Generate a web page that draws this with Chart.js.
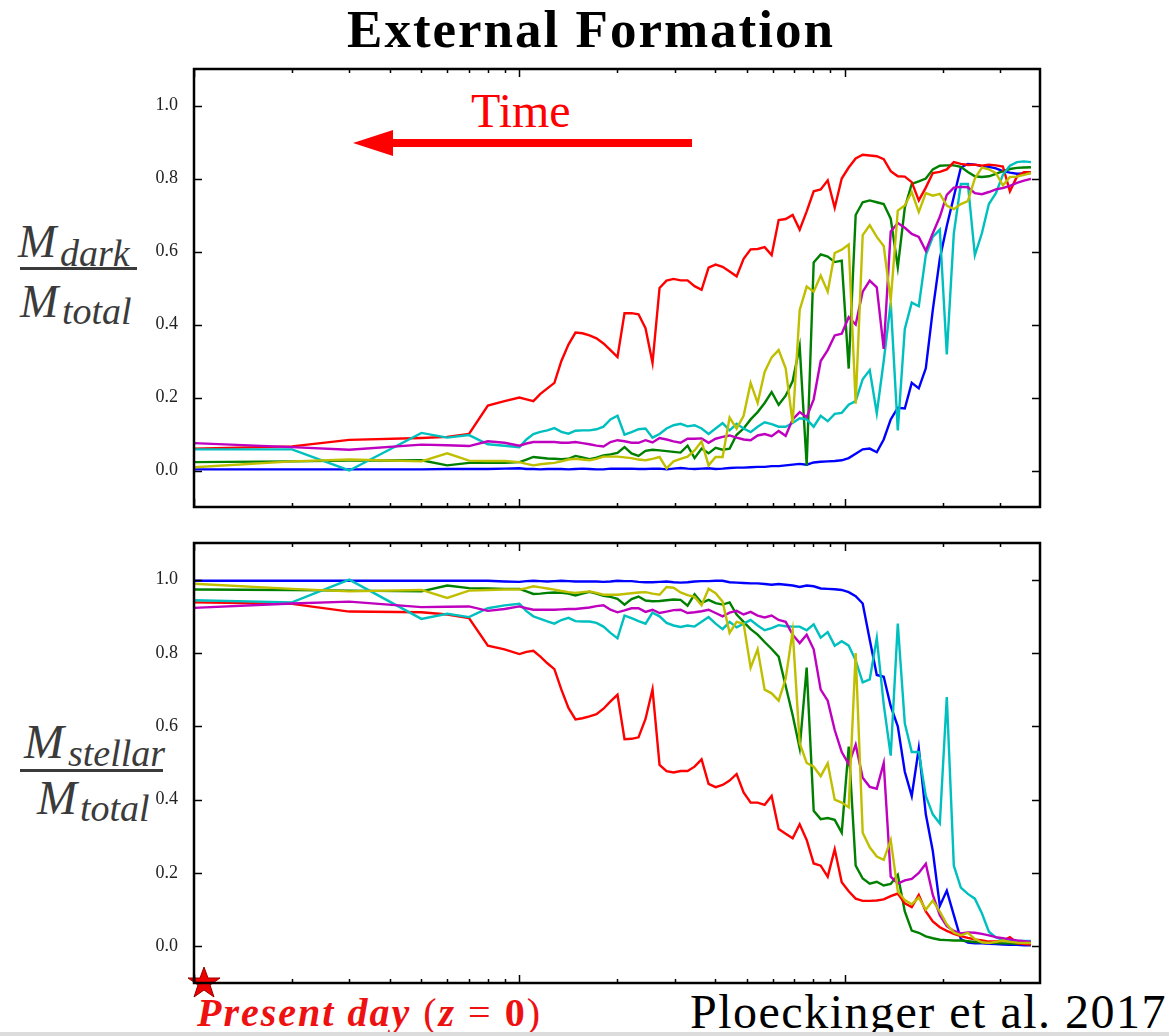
<!DOCTYPE html>
<html><head><meta charset="utf-8">
<script src="https://cdn.jsdelivr.net/npm/chart.js@4.4.1/dist/chart.umd.min.js"></script>
<style>
html,body{margin:0;padding:0;background:#fff;}
body{width:1169px;height:1036px;overflow:hidden;position:relative;}
canvas{position:absolute;left:0;}
.t{position:absolute;white-space:nowrap;line-height:1;font-family:"Liberation Serif","Times New Roman",serif;}
.m{color:#3b3b3b;font-style:italic;}
.bar{position:absolute;background:#3b3b3b;}
</style></head><body>
<div class="t" id="title" style="left:591px;top:3px;transform:translateX(-50%);font-size:53px;letter-spacing:2px;font-weight:bold;color:#000;">External Formation</div>
<div class="t" style="left:471px;top:87px;font-size:48px;color:#ff0000;">Time</div>
<svg style="position:absolute;left:0;top:0;" width="1169" height="1036">
  <rect x="390" y="139" width="302" height="8" fill="#ff0000"/>
  <polygon points="353,143 393,130 393,156" fill="#ff0000"/>
  <polygon points="204,967 208,978 220,978 210,985 214,997 204,990 194,997 198,985 188,978 200,978" fill="#ee0000" stroke="#990000" stroke-width="1"/>
</svg>

<div class="t m" style="left:18px;top:219px;font-size:46px;">M</div>
<div class="t m" style="left:60px;top:234px;font-size:38px;">dark</div>
<div class="bar" style="left:20px;top:267px;width:117px;height:2.5px;"></div>
<div class="t m" style="left:20px;top:279px;font-size:46px;">M</div>
<div class="t m" style="left:62px;top:292px;font-size:38px;">total</div>

<div class="t m" style="left:24px;top:718px;font-size:48px;">M</div>
<div class="t m" style="left:68px;top:734px;font-size:38px;">stellar</div>
<div class="bar" style="left:20px;top:769px;width:143px;height:2.5px;"></div>
<div class="t m" style="left:37px;top:774px;font-size:48px;">M</div>
<div class="t m" style="left:80px;top:789px;font-size:38px;">total</div>

<div class="t" style="left:197px;top:993px;font-size:40px;color:#ee1111;letter-spacing:2px;"><b><i>Present day</i></b> (<b><i>z</i></b> = <b>0</b>)</div>
<div class="t" style="left:690px;top:988px;font-size:48px;letter-spacing:1.5px;color:#000;">Ploeckinger et al. 2017</div>
<div style="position:absolute;left:0;top:1032px;width:1169px;height:4px;background:#dcdcdc;"></div>

<canvas id="c1" width="1169" height="520" style="top:0px;width:1169px;height:520px;"></canvas>
<canvas id="c2" width="1169" height="480" style="top:520px;width:1169px;height:480px;"></canvas>

<script>
// snapshot positions (x axis, logarithmic)
const xSnap = [1, 2, 3, 5, 6, 7, 8, 9,
 10, 10.51, 11.04, 11.60, 12.19, 12.81, 13.46, 14.15, 14.87, 15.62,
 16.42, 17.25, 18.13, 19.05, 20.02, 21.04, 22.11, 23.23, 24.41, 25.65,
 26.96, 28.33, 29.77, 31.28, 32.87, 34.54, 36.30, 38.14, 40.08, 42.12,
 44.26, 46.51, 48.87, 51.36, 53.97, 56.71, 59.59, 62.62, 65.81, 69.15,
 72.67, 76.36, 80.24, 84.32, 88.61, 93.11, 97.85, 102.8, 108.0, 113.5,
 119.3, 125.4, 131.7, 138.4, 145.5, 152.9, 160.6, 168.8, 177.4, 186.4,
 195.9, 205.8, 216.3, 227.3, 238.9, 251.0, 263.8, 277.2, 291.3, 306.1,
 321.7, 338.0, 355.2, 373.3];

// ---- M_dark / M_total ----
const redDark = [0.06, 0.066, 0.084, 0.089, 0.092, 0.10, 0.178, 0.19,
 0.20, 0.195, 0.19, 0.21, 0.225, 0.24, 0.30, 0.345, 0.378, 0.376,
 0.37, 0.362, 0.348, 0.33, 0.311, 0.431, 0.431, 0.428, 0.39, 0.295,
 0.50, 0.52, 0.525, 0.521, 0.521, 0.505, 0.495, 0.556, 0.564, 0.558,
 0.545, 0.532, 0.58, 0.606, 0.607, 0.612, 0.59, 0.686, 0.689, 0.70,
 0.66, 0.71, 0.765, 0.77, 0.795, 0.72, 0.80, 0.83, 0.855, 0.865,
 0.863, 0.861, 0.853, 0.82, 0.806, 0.805, 0.79, 0.74, 0.775, 0.815,
 0.818, 0.825, 0.845, 0.84, 0.837, 0.838, 0.835, 0.838, 0.836, 0.833,
 0.765, 0.805, 0.817, 0.817];
const blueDark = [0.003, 0.003, 0.003, 0.003, 0.004, 0.004, 0.004, 0.005,
 0.006, 0.004, 0.004, 0.003, 0.004, 0.004, 0.004, 0.003, 0.004, 0.005,
 0.004, 0.003, 0.003, 0.005, 0.005, 0.005, 0.005, 0.004, 0.004, 0.005,
 0.005, 0.003, 0.005, 0.007, 0.005, 0.004, 0.005, 0.006, 0.004, 0.005,
 0.007, 0.008, 0.008, 0.009, 0.01, 0.01, 0.012, 0.012, 0.014, 0.016,
 0.018, 0.016, 0.022, 0.024, 0.025, 0.026, 0.028, 0.034, 0.046, 0.058,
 0.06, 0.05, 0.085, 0.14, 0.172, 0.17, 0.24, 0.225, 0.28, 0.44,
 0.58, 0.67, 0.75, 0.83, 0.84, 0.838, 0.834, 0.832, 0.828, 0.82,
 0.816, 0.813, 0.814, 0.815];
const greenDark = [0.023, 0.025, 0.027, 0.028, 0.014, 0.021, 0.021, 0.021,
 0.023, 0.03, 0.037, 0.035, 0.033, 0.032, 0.031, 0.032, 0.04, 0.036,
 0.031, 0.035, 0.041, 0.044, 0.048, 0.064, 0.047, 0.04, 0.054, 0.057,
 0.055, 0.053, 0.051, 0.049, 0.068, 0.034, 0.06, 0.047, 0.062, 0.057,
 0.06, 0.098, 0.115, 0.14, 0.16, 0.185, 0.215, 0.18, 0.205, 0.245,
 0.34, 0.014, 0.57, 0.592, 0.586, 0.571, 0.575, 0.279, 0.70, 0.735,
 0.74, 0.735, 0.73, 0.69, 0.557, 0.72, 0.785, 0.792, 0.80, 0.825,
 0.835, 0.836, 0.836, 0.832, 0.818, 0.806, 0.804, 0.806, 0.813, 0.82,
 0.826, 0.829, 0.83, 0.831];
const yellowDark = [0.009, 0.025, 0.03, 0.025, 0.047, 0.027, 0.026, 0.026,
 0.023, 0.018, 0.014, 0.017, 0.019, 0.021, 0.025, 0.03, 0.032, 0.03,
 0.028, 0.032, 0.038, 0.038, 0.038, 0.036, 0.034, 0.03, 0.028, 0.032,
 0.037, 0.006, 0.025, 0.032, 0.038, 0.055, 0.08, 0.014, 0.037, 0.037,
 0.145, 0.115, 0.15, 0.24, 0.185, 0.27, 0.31, 0.33, 0.28, 0.13,
 0.44, 0.504, 0.49, 0.534, 0.49, 0.596, 0.605, 0.619, 0.183, 0.645,
 0.672, 0.64, 0.615, 0.466, 0.712, 0.726, 0.763, 0.708, 0.76, 0.753,
 0.758, 0.726, 0.716, 0.73, 0.738, 0.80, 0.83, 0.825, 0.815, 0.781,
 0.804, 0.805, 0.81, 0.815];
const magentaDark = [0.075, 0.064, 0.057, 0.071, 0.069, 0.067, 0.08, 0.076,
 0.068, 0.074, 0.078, 0.078, 0.078, 0.078, 0.076, 0.076, 0.078, 0.075,
 0.072, 0.068, 0.066, 0.078, 0.083, 0.08, 0.076, 0.076, 0.083, 0.077,
 0.089, 0.085, 0.08, 0.076, 0.087, 0.087, 0.088, 0.076, 0.087, 0.092,
 0.096, 0.09, 0.085, 0.083, 0.096, 0.10, 0.094, 0.108, 0.095, 0.14,
 0.16, 0.146, 0.195, 0.30, 0.33, 0.37, 0.375, 0.42, 0.40, 0.49,
 0.52, 0.502, 0.333, 0.655, 0.678, 0.665, 0.648, 0.64, 0.602, 0.65,
 0.695, 0.755, 0.775, 0.777, 0.776, 0.76, 0.757, 0.763, 0.77, 0.774,
 0.78, 0.788, 0.794, 0.799];
const cyanDark = [0.058, 0.058, 0.0, 0.103, 0.09, 0.097, 0.072, 0.068,
 0.064, 0.085, 0.10, 0.106, 0.11, 0.116, 0.106, 0.101, 0.109, 0.11,
 0.11, 0.113, 0.12, 0.14, 0.15, 0.098, 0.105, 0.113, 0.115, 0.09,
 0.10, 0.115, 0.124, 0.128, 0.121, 0.124, 0.115, 0.10, 0.115, 0.13,
 0.11, 0.128, 0.115, 0.105, 0.12, 0.132, 0.127, 0.12, 0.12, 0.13,
 0.143, 0.14, 0.12, 0.15, 0.135, 0.155, 0.158, 0.18, 0.19, 0.25,
 0.275, 0.157, 0.30, 0.46, 0.11, 0.388, 0.46, 0.45, 0.59, 0.64,
 0.66, 0.318, 0.65, 0.785, 0.785, 0.59, 0.65, 0.73, 0.76, 0.81,
 0.835, 0.845, 0.847, 0.845];

// ---- M_stellar / M_total ----
const redStellar = [0.938, 0.934, 0.913, 0.911, 0.905, 0.895, 0.82, 0.81,
 0.797, 0.803, 0.806, 0.79, 0.772, 0.756, 0.70, 0.65, 0.619, 0.622,
 0.627, 0.633, 0.648, 0.668, 0.686, 0.565, 0.566, 0.57, 0.62, 0.701,
 0.495, 0.478, 0.474, 0.478, 0.478, 0.49, 0.51, 0.443, 0.434, 0.44,
 0.452, 0.47, 0.42, 0.392, 0.392, 0.386, 0.41, 0.32, 0.307, 0.295,
 0.333, 0.29, 0.226, 0.22, 0.19, 0.265, 0.175, 0.15, 0.13, 0.124,
 0.124, 0.125, 0.128, 0.137, 0.144, 0.117, 0.107, 0.14, 0.095, 0.068,
 0.052, 0.042, 0.034, 0.028, 0.023, 0.019, 0.016, 0.013, 0.013, 0.015,
 0.025, 0.009, 0.006, 0.005];
const blueStellar = [0.997, 0.997, 0.997, 0.997, 0.997, 0.997, 0.997, 0.995,
 0.994, 0.996, 0.997, 0.996, 0.995, 0.996, 0.997, 0.996, 0.995, 0.995,
 0.995, 0.995, 0.994, 0.995, 0.997, 0.996, 0.996, 0.994, 0.993, 0.993,
 0.994, 0.995, 0.993, 0.992, 0.993, 0.995, 0.996, 0.996, 0.997, 0.997,
 0.993, 0.992, 0.991, 0.99, 0.99, 0.988, 0.986, 0.988, 0.986, 0.984,
 0.98, 0.984, 0.982, 0.976, 0.975, 0.974, 0.972, 0.966, 0.955, 0.935,
 0.836, 0.74, 0.735, 0.655, 0.6, 0.476, 0.41, 0.54, 0.36, 0.26,
 0.11, 0.152, 0.085, 0.02, 0.01, 0.008, 0.008, 0.007, 0.006, 0.005,
 0.004, 0.004, 0.003, 0.003];
const greenStellar = [0.973, 0.972, 0.97, 0.968, 0.984, 0.977, 0.976, 0.975,
 0.975, 0.968, 0.961, 0.962, 0.964, 0.965, 0.964, 0.962, 0.957, 0.962,
 0.967, 0.962, 0.956, 0.953, 0.948, 0.932, 0.947, 0.954, 0.943, 0.941,
 0.942, 0.944, 0.946, 0.945, 0.929, 0.96, 0.937, 0.945, 0.936, 0.932,
 0.938, 0.905, 0.885, 0.865, 0.85, 0.83, 0.811, 0.79, 0.71, 0.63,
 0.54, 0.76, 0.37, 0.347, 0.35, 0.345, 0.31, 0.545, 0.22, 0.185,
 0.171, 0.176, 0.166, 0.17, 0.195, 0.095, 0.043, 0.037, 0.027, 0.022,
 0.018, 0.017, 0.016, 0.016, 0.014, 0.012, 0.011, 0.01, 0.009, 0.008,
 0.008, 0.007, 0.007, 0.007];
const yellowStellar = [0.989, 0.975, 0.968, 0.972, 0.95, 0.97, 0.972, 0.973,
 0.973, 0.977, 0.982, 0.979, 0.976, 0.973, 0.969, 0.966, 0.964, 0.966,
 0.968, 0.964, 0.959, 0.959, 0.959, 0.961, 0.963, 0.965, 0.966, 0.962,
 0.959, 0.98, 0.978, 0.965, 0.958, 0.953, 0.93, 0.975, 0.963, 0.94,
 0.855, 0.885, 0.88, 0.76, 0.81, 0.70, 0.69, 0.67, 0.73, 0.86,
 0.554, 0.50, 0.49, 0.464, 0.499, 0.40, 0.392, 0.379, 0.80, 0.31,
 0.27, 0.245, 0.236, 0.29, 0.15, 0.126, 0.115, 0.133, 0.10, 0.125,
 0.095, 0.06, 0.038, 0.03, 0.037, 0.02, 0.011, 0.009, 0.012, 0.016,
 0.012, 0.01, 0.009, 0.009];
const magentaStellar = [0.923, 0.935, 0.94, 0.925, 0.926, 0.927, 0.915, 0.92,
 0.927, 0.922, 0.918, 0.918, 0.918, 0.918, 0.919, 0.92, 0.92, 0.922,
 0.924, 0.928, 0.93, 0.918, 0.911, 0.916, 0.922, 0.922, 0.912, 0.918,
 0.909, 0.913, 0.917, 0.918, 0.909, 0.911, 0.914, 0.918, 0.909, 0.90,
 0.91, 0.915, 0.905, 0.912, 0.902, 0.897, 0.902, 0.89, 0.885, 0.85,
 0.827, 0.85, 0.81, 0.70, 0.67, 0.59, 0.53, 0.497, 0.55, 0.46,
 0.435, 0.43, 0.50, 0.19, 0.171, 0.18, 0.184, 0.20, 0.225, 0.14,
 0.085, 0.055, 0.042, 0.035, 0.038, 0.037, 0.034, 0.03, 0.025, 0.022,
 0.019, 0.016, 0.014, 0.012];
const cyanStellar = [0.944, 0.938, 1.0, 0.893, 0.907, 0.898, 0.922, 0.93,
 0.934, 0.914, 0.90, 0.893, 0.886, 0.88, 0.89, 0.896, 0.887, 0.886,
 0.886, 0.882, 0.872, 0.855, 0.84, 0.902, 0.895, 0.887, 0.88, 0.91,
 0.90, 0.882, 0.875, 0.871, 0.875, 0.872, 0.885, 0.898, 0.88, 0.865,
 0.885, 0.87, 0.88, 0.89, 0.875, 0.862, 0.868, 0.876, 0.873, 0.872,
 0.872, 0.862, 0.878, 0.842, 0.857, 0.82, 0.832, 0.82, 0.78, 0.72,
 0.728, 0.841, 0.66, 0.52, 0.88, 0.608, 0.53, 0.53, 0.41, 0.36,
 0.335, 0.68, 0.22, 0.16, 0.143, 0.13, 0.09, 0.04, 0.024, 0.018,
 0.016, 0.015, 0.015, 0.015];

// axis ticks
const yTickVals = [0.0, 0.2, 0.4, 0.6, 0.8, 1.0];
const xMajorTicks = [1, 10, 100];
const xMinorTicks = [2, 3, 4, 5, 6, 7, 8, 9, 20, 30, 40, 50, 60, 70, 80, 90, 200, 300];

const COLORS = {b:'#0000ff', g:'#008000', r:'#ff0000', c:'#00bfbf', m:'#bf00bf', y:'#bfbf00'};

function pts(arr){ return xSnap.map((x,i)=>({x:x, y:arr[i]})); }
function ds(arr, col){
  return {data: pts(arr), borderColor: col, backgroundColor: col, borderWidth: 2.4,
          pointRadius: 0, tension: 0, fill: false};
}

const framePlugin = {
  id: 'frame',
  afterDatasetsDraw(chart){
    const {ctx, chartArea:a, scales} = chart;
    const x = scales.x, y = scales.y;
    ctx.save();
    ctx.strokeStyle = '#000';
    ctx.lineWidth = 1.5;
    ctx.beginPath();
    xMajorTicks.forEach(v=>{
      const p = Math.round(x.getPixelForValue(v))+0.5;
      ctx.moveTo(p, a.bottom); ctx.lineTo(p, a.bottom-8);
      ctx.moveTo(p, a.top); ctx.lineTo(p, a.top+8);
    });
    xMinorTicks.forEach(v=>{
      const p = Math.round(x.getPixelForValue(v))+0.5;
      ctx.moveTo(p, a.bottom); ctx.lineTo(p, a.bottom-4);
      ctx.moveTo(p, a.top); ctx.lineTo(p, a.top+4);
    });
    yTickVals.forEach(v=>{
      const p = Math.round(y.getPixelForValue(v))+0.5;
      ctx.moveTo(a.left, p); ctx.lineTo(a.left+8, p);
      ctx.moveTo(a.right, p); ctx.lineTo(a.right-8, p);
    });
    ctx.stroke();
    ctx.lineWidth = 2.5;
    ctx.strokeRect(a.left, a.top, a.right-a.left, a.bottom-a.top);
    ctx.restore();
  }
};

function makeChart(id, series, padTop, padBottom){
  return new Chart(document.getElementById(id), {
    type: 'line',
    data: { datasets: [
      ds(series.y, COLORS.y), ds(series.m, COLORS.m), ds(series.c, COLORS.c),
      ds(series.r, COLORS.r), ds(series.g, COLORS.g), ds(series.b, COLORS.b)
    ]},
    options: {
      responsive: false, animation: false, devicePixelRatio: 1,
      layout: { padding: { left: 0, right: 129, top: padTop, bottom: padBottom } },
      plugins: { legend: {display:false}, tooltip: {enabled:false}, title:{display:false} },
      scales: {
        x: { type: 'logarithmic', min: 1, max: 398, display: false },
        y: { type: 'linear', min: -0.1, max: 1.1,
             afterFit(s){ s.width = 194; },
             afterBuildTicks(s){ s.ticks = yTickVals.map(v=>({value:v})); },
             grid: { display: true, drawOnChartArea: false, drawTicks: true, tickLength: 16,
                     color: 'rgba(0,0,0,0)' },
             border: { display: false },
             ticks: { padding: 0, color: '#222',
                      font: { family: '"Liberation Serif", serif', size: 18 },
                      callback: v => Number(v).toFixed(1) } }
      }
    },
    plugins: [framePlugin]
  });
}

makeChart('c1', {r:redDark, b:blueDark, g:greenDark, y:yellowDark, m:magentaDark, c:cyanDark}, 69, 13);
makeChart('c2', {r:redStellar, b:blueStellar, g:greenStellar, y:yellowStellar, m:magentaStellar, c:cyanStellar}, 23, 17);
</script>
</body></html>
